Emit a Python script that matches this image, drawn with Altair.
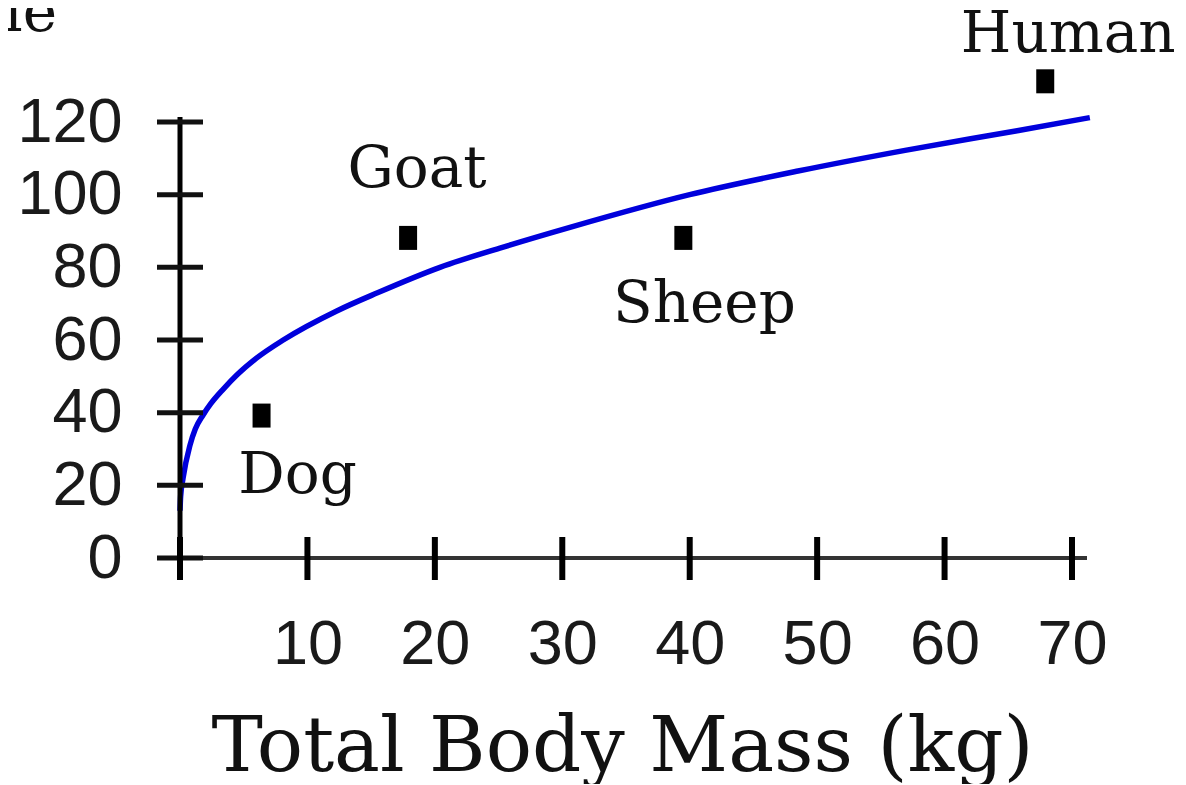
import altair as alt
import pandas as pd

# ---- data ----
curve_mass = [0.0, 0.05, 0.24, 0.78, 1.2, 1.8, 2.4, 3.4, 4.5, 6.0, 8.1, 12.3, 15.5, 20.4,
              25.3, 30.6, 40.0, 48.5, 56.9, 65.7, 71.4]
curve_value = [13.0, 17.0, 22.0, 31.0, 35.5, 39.3, 42.4, 46.5, 50.5, 55.0, 60.0, 68.0, 73.0,
               80.0, 85.5, 91.0, 100.0, 106.5, 112.2, 117.6, 121.2]

animals = ["Dog", "Goat", "Sheep", "Human"]
animal_mass = [6.4, 17.9, 39.5, 67.9]
animal_value = [39.2, 88.1, 88.1, 131.2]

x_tick_values = [0, 10, 20, 30, 40, 50, 60, 70]
x_label_values = [10, 20, 30, 40, 50, 60, 70]
y_tick_values = [0, 20, 40, 60, 80, 100, 120]

x_title = "Total Body Mass (kg)"
corner_text = "le"

curve_df = pd.DataFrame({"mass": curve_mass, "value": curve_value})
pts_df = pd.DataFrame({"animal": animals, "mass": animal_mass, "value": animal_value})
xt_df = pd.DataFrame({"mass": x_tick_values})
yt_df = pd.DataFrame({"value": y_tick_values})
one = pd.DataFrame({"k": [0]})

W, H = 892, 436
xs = alt.Scale(domain=[0, 70], nice=False, zero=False)
ys = alt.Scale(domain=[0, 120], nice=False, zero=False)

LABEL_FONT = "Liberation Sans"
SERIF = "DejaVu Serif"

x_axis = alt.Axis(values=x_label_values, domain=False, ticks=False, tickSize=0, grid=False,
                  labelPadding=55, labelFont=LABEL_FONT, labelFontSize=63,
                  labelColor="#1a1a1a", labelFlush=False, labelOverlap=False,
                  title=x_title, titleFont=SERIF, titleFontSize=77,
                  titleFontWeight="normal", titleColor="#111111",
                  titleX=442, titleY=212, titleBaseline="alphabetic", titleAlign="center")
y_axis = alt.Axis(values=y_tick_values, domain=False, ticks=False, tickSize=0, grid=False,
                  labelPadding=58, labelFont=LABEL_FONT, labelFontSize=63,
                  labelColor="#1a1a1a", labelFlush=False, labelOverlap=False, title=None)

X = alt.X("mass:Q", scale=xs, axis=x_axis)
Y = alt.Y("value:Q", scale=ys, axis=y_axis)

curve = alt.Chart(curve_df).mark_line(color="#0000dc", strokeWidth=5.5,
                                      interpolate="monotone", clip=False).encode(x=X, y=Y)

y_line = alt.Chart(one).mark_rule(color="#000000", strokeWidth=5).encode(
    x=alt.value(0), y=alt.value(-5), y2=alt.value(458))
x_line = alt.Chart(one).mark_rule(color="#333333", strokeWidth=4).encode(
    y=alt.value(H), x=alt.value(-23), x2=alt.value(907))

y_ticks = alt.Chart(yt_df).mark_rule(color="#111111", strokeWidth=5).encode(
    y=Y, x=alt.value(-23), x2=alt.value(23))
x_ticks = alt.Chart(xt_df).mark_rule(color="#000000", strokeWidth=6).encode(
    x=X, y=alt.value(415), y2=alt.value(458))

rect_shape = "M-0.75,-1L0.75,-1L0.75,1L-0.75,1Z"
points = alt.Chart(pts_df).mark_point(shape=rect_shape, size=576, filled=True,
                                      color="#000000", opacity=1, strokeWidth=0,
                                      clip=False).encode(x=X, y=Y)

label_offsets = {"Dog": (36, 77.5), "Goat": (9, -51), "Sheep": (21, 84), "Human": (23, -29.5)}
labels = []
for name in animals:
    dx, dy = label_offsets[name]
    labels.append(
        alt.Chart(pts_df).transform_filter(alt.datum.animal == name).mark_text(
            font=SERIF, fontSize=58, color="#111111", align="center",
            baseline="alphabetic", dx=dx, dy=dy).encode(x=X, y=Y, text="animal:N")
    )

corner = alt.Chart(one).mark_text(text=corner_text, font=SERIF, fontSize=58, color="#111111",
                                  align="right", baseline="alphabetic").encode(
    x=alt.value(-123), y=alt.value(-91))

chart = alt.layer(curve, y_line, x_line, y_ticks, x_ticks, points, *labels, corner).properties(
    width=W, height=H,
    padding={"left": 172, "top": 114, "right": 106, "bottom": 226},
    autosize=alt.AutoSizeParams(type="none"),
).configure_view(stroke=None)

chart.save("out.html", embed_options={"renderer": "svg", "actions": False})
